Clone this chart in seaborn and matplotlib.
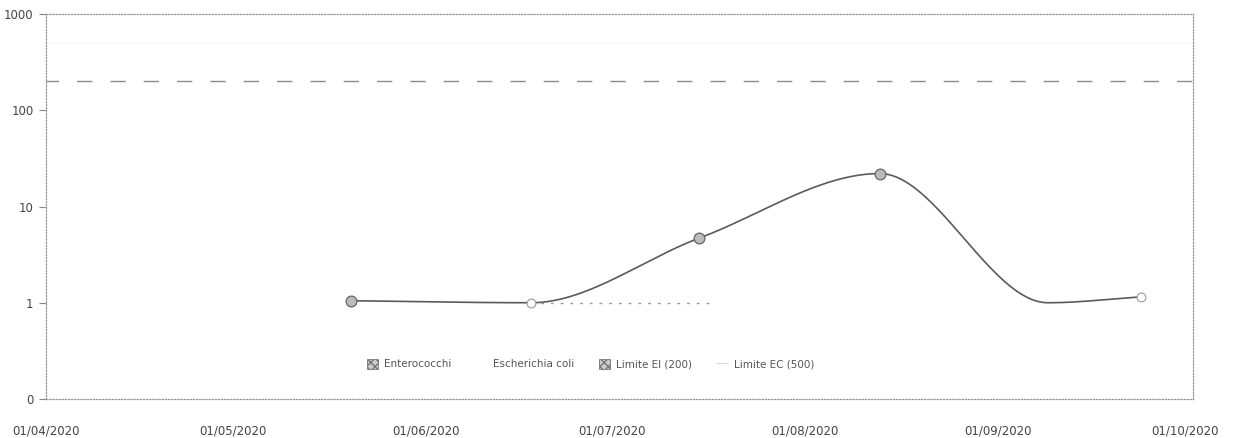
import numpy as np
import pandas as pd
import matplotlib
matplotlib.use("Agg")
import matplotlib.pyplot as plt
import matplotlib.dates as mdates
from matplotlib.patches import Patch
from matplotlib.lines import Line2D
import seaborn as sns

# ---- data ----
entero_dates = ["2020-05-20", "2020-06-18", "2020-07-15", "2020-08-13", "2020-09-09", "2020-09-24"]
entero_values = [1.05, 1.0, 4.7, 22.0, 1.0, 1.15]
ecoli_dates = ["2020-06-18", "2020-07-17"]
ecoli_values = [1.0, 1.0]
limit_ei = 200
limit_ec = 500
y_ticks = [0.1, 1, 10, 100, 1000]
y_labels = ["0", "1", "10", "100", "1000"]
x_ticks = ["2020-04-01", "2020-05-01", "2020-06-01", "2020-07-01", "2020-08-01", "2020-09-01", "2020-10-01"]
legend_labels = ["Enterococchi", "Escherichia coli", "Limite EI (200)", "Limite EC (500)"]

sns.set_theme(style="white")
plt.rcParams["font.family"] = ["DejaVu Sans"]

fig = plt.figure(figsize=(12.48, 4.38), dpi=100)
ax = fig.add_axes([46 / 1248, 1 - 399 / 438, (1193 - 46) / 1248, (399 - 14) / 438])


def pchip(x, y, xs):
    x = np.asarray(x, float); y = np.asarray(y, float)
    h = np.diff(x); d = np.diff(y) / h
    m = np.zeros_like(y)
    for k in range(1, len(x) - 1):
        if d[k - 1] * d[k] > 0:
            w1 = 2 * h[k] + h[k - 1]; w2 = h[k] + 2 * h[k - 1]
            m[k] = (w1 + w2) / (w1 / d[k - 1] + w2 / d[k])
    m[0] = d[0]; m[-1] = d[-1]
    out = np.empty_like(xs)
    for i, t in enumerate(xs):
        k = min(max(np.searchsorted(x, t) - 1, 0), len(x) - 2)
        s = (t - x[k]) / h[k]
        h00 = 2 * s**3 - 3 * s**2 + 1; h10 = s**3 - 2 * s**2 + s
        h01 = -2 * s**3 + 3 * s**2; h11 = s**3 - s**2
        out[i] = h00 * y[k] + h10 * h[k] * m[k] + h01 * y[k + 1] + h11 * h[k] * m[k + 1]
    return out


ed = pd.to_datetime(entero_dates)
en = mdates.date2num(ed)
xs = np.linspace(en[0], en[-1], 400)
ys = 10 ** pchip(en, np.log10(entero_values), xs)
smooth = pd.DataFrame({"date": mdates.num2date(xs), "value": ys})
smooth["date"] = smooth["date"].dt.tz_localize(None)

sns.lineplot(data=smooth, x="date", y="value", ax=ax, color="#5a5a5a", lw=1.2)
pts = pd.DataFrame({"date": ed, "value": entero_values})
sns.scatterplot(data=pts.iloc[[0, 2, 3]], x="date", y="value", ax=ax, s=60,
                color="#bbbbbb", edgecolor="#666666", linewidth=0.9, zorder=5)
sns.scatterplot(data=pts.iloc[[1, 5]], x="date", y="value", ax=ax, s=40,
                color="white", edgecolor="#999999", linewidth=0.8, zorder=5)

ec = pd.DataFrame({"date": pd.to_datetime(ecoli_dates), "value": ecoli_values})
sns.lineplot(data=ec, x="date", y="value", ax=ax, color="#999999", lw=1.0, linestyle=(0, (2, 5)))

ax.axhline(limit_ei, color="#8a8a8a", lw=1.0, linestyle=(2, (11, 13)))
ax.axhline(limit_ec, color="#f6f6f6", lw=0.8)

ax.set_yscale("log")
ax.set_ylim(0.1, 1000)
ax.set_yticks(y_ticks)
ax.set_yticklabels(y_labels)
ax.minorticks_off()
ax.set_xlim(pd.Timestamp("2020-04-01"), pd.Timestamp("2020-10-02 08:00"))
ax.set_xticks(pd.to_datetime(x_ticks))
ax.xaxis.set_major_formatter(mdates.DateFormatter("%d/%m/%Y"))
ax.set_xlabel("")
ax.set_ylabel("")
ax.tick_params(axis="y", length=5, width=0.8, color="#888888", labelsize=8.5, labelcolor="#444444", pad=4, left=True)
ax.tick_params(axis="x", length=0, labelsize=8.5, labelcolor="#444444", pad=18)
for s in ax.spines.values():
    s.set_color("#999999")
    s.set_linewidth(0.9)
    s.set_linestyle((0, (1, 1.5)))

handles = [
    Patch(facecolor="#cccccc", edgecolor="#777777", hatch="xxxx", lw=0.6),
    Patch(facecolor="white", edgecolor="white"),
    Patch(facecolor="#cccccc", edgecolor="#777777", hatch="xxxx", lw=0.6),
    Line2D([0], [0], color="#dddddd", lw=0.8),
]
ax.legend(handles, legend_labels, loc="center", bbox_to_anchor=(0.475, 0.09), ncol=4, frameon=False,
          fontsize=7.5, labelcolor="#555555", handlelength=1.0, handleheight=1.0, columnspacing=2.4,
          handletextpad=0.6)

fig.savefig("out.png", dpi=100)
